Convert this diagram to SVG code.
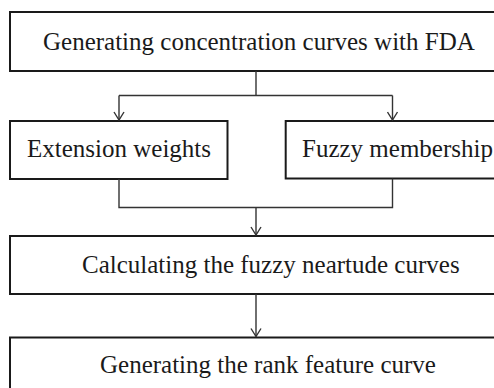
<svg xmlns="http://www.w3.org/2000/svg" width="494" height="388" viewBox="0 0 494 388">
  <style>
    .box { fill: #ffffff; stroke: #1a1a1a; stroke-width: 2; }
    .label { font-family: "Liberation Serif", "Times New Roman", serif; font-size: 25px; fill: #1a1a1a; }
    .wire { fill: none; stroke: #333333; stroke-width: 1.4; }
  </style>
  <defs>
    <!-- open V arrowhead, drawn pointing along +x so orient="auto" follows the line -->
    <marker id="arrow" viewBox="0 0 12 12" refX="11" refY="6" markerWidth="12" markerHeight="12" markerUnits="userSpaceOnUse" orient="auto">
      <path d="M3 1 L11 6 L3 11" fill="none" stroke="#333333" stroke-width="1.4"/>
    </marker>
  </defs>
  <rect width="494" height="388" fill="#ffffff"/>

  <g id="generate-curves">
    <rect class="box" x="10" y="12" width="492" height="59"/>
    <text class="label" x="43" y="50">Generating concentration curves with FDA</text>
  </g>

  <g id="extension-weights">
    <rect class="box" x="10" y="121" width="217.5" height="58"/>
    <text class="label" x="27" y="157">Extension weights</text>
  </g>

  <g id="fuzzy-membership">
    <rect class="box" x="285.7" y="121" width="216.3" height="57.5"/>
    <text class="label" x="302" y="157">Fuzzy membership</text>
  </g>

  <g id="fuzzy-neartude">
    <rect class="box" x="10" y="236" width="492" height="58"/>
    <text class="label" x="82" y="273">Calculating the fuzzy neartude curves</text>
  </g>

  <g id="rank-feature">
    <rect class="box" x="10" y="337.5" width="492" height="62"/>
    <text class="label" x="100" y="373">Generating the rank feature curve</text>
  </g>

  <g id="connectors">
    <path class="wire" d="M256 71 V95.5"/>
    <path class="wire" d="M119 95.5 H392.5"/>
    <path class="wire" d="M119 95.5 V120" marker-end="url(#arrow)"/>
    <path class="wire" d="M392.5 95.5 V120" marker-end="url(#arrow)"/>
    <path class="wire" d="M119 179 V207.5 H392.5 V178.5"/>
    <path class="wire" d="M256 207.5 V235" marker-end="url(#arrow)"/>
    <path class="wire" d="M256 294 V336.5" marker-end="url(#arrow)"/>
  </g>
</svg>
